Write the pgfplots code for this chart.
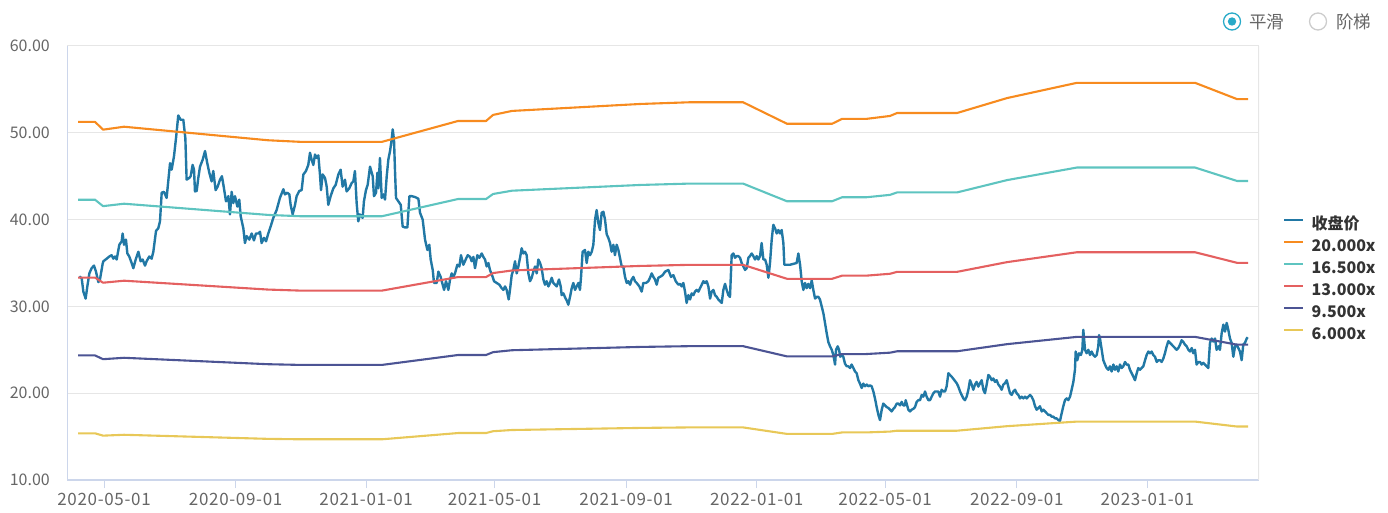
\documentclass[border=0pt]{standalone}
\usepackage{pgfplots}
\pgfplotsset{compat=1.18}
\usepackage{pgfplotstable}
\usepackage{fontspec}
\setmainfont{Noto Sans CJK SC}
\definecolor{closec}{RGB}{33,120,165}
\definecolor{c20}{RGB}{247,139,31}
\definecolor{c165}{RGB}{94,196,192}
\definecolor{c13}{RGB}{228,96,96}
\definecolor{c95}{RGB}{76,84,148}
\definecolor{c6}{RGB}{232,200,88}
\definecolor{gridc}{RGB}{230,230,230}
\definecolor{axisc}{RGB}{204,214,235}
\definecolor{tickc}{RGB}{102,102,102}
\definecolor{legc}{RGB}{51,51,51}
\definecolor{radioc}{RGB}{40,170,200}

\pgfplotstableread{
d b20 b165 b13 b95 b6
-24.3 51.26 42.29 33.32 24.35 15.38
-8.4 51.26 42.29 33.32 24.35 15.38
-0.9 50.36 41.55 32.73 23.92 15.11
18.7 50.70 41.83 32.96 24.08 15.21
153.3 49.14 40.54 31.94 23.34 14.74
183.2 48.96 40.39 31.82 23.26 14.69
259.8 48.96 40.39 31.82 23.26 14.69
330.8 51.36 42.37 33.38 24.40 15.41
357.0 51.36 42.37 33.38 24.40 15.41
363.6 52.06 42.95 33.84 24.73 15.62
381.3 52.52 43.33 34.14 24.95 15.76
500.9 53.32 43.99 34.66 25.33 16.00
547.7 53.52 44.15 34.79 25.42 16.06
597.2 53.52 44.15 34.79 25.42 16.06
638.3 51.04 42.11 33.18 24.24 15.31
680.4 51.04 42.11 33.18 24.24 15.31
689.7 51.60 42.57 33.54 24.51 15.48
712.1 51.60 42.57 33.54 24.51 15.48
734.6 51.94 42.85 33.76 24.67 15.58
741.1 52.28 43.13 33.98 24.83 15.68
797.2 52.28 43.13 33.98 24.83 15.68
843.9 54.00 44.55 35.10 25.65 16.20
909.3 55.76 46.00 36.24 26.49 16.73
1019.6 55.76 46.00 36.24 26.49 16.73
1058.9 53.88 44.45 35.02 25.59 16.16
1069.2 53.88 44.45 35.02 25.59 16.16
}\bands

\pgfplotstableread{
d close
-23.1 33.45
-20.9 33.25
-19.3 31.7
-17.2 30.9
-15.6 32.3
-13.7 33.8
-11.6 34.4
-9.4 34.7
-7.5 34.0
-5.3 32.8
-3.8 33.1
-1.3 34.9
-0.6 35.2
2.5 35.5
5.0 35.75
7.1 35.9
8.7 35.5
10.3 35.75
11.8 35.4
14.3 37.1
16.5 37.5
17.4 38.4
18.7 37.1
20.5 37.7
21.8 36.1
23.6 35.75
25.8 35.0
27.4 34.4
29.6 35.4
32.1 36.3
34.2 35.2
36.1 35.4
38.3 34.7
39.8 35.2
42.3 35.75
44.5 35.5
46.1 36.3
48.6 38.7
50.7 39.0
52.3 39.8
53.9 43.1
56.0 43.2
58.5 42.5
61.7 46.5
63.2 45.75
65.4 47.3
67.3 49.4
69.4 52.0
71.6 51.5
74.1 51.5
76.0 49.4
77.2 44.6
79.7 44.8
81.0 45.0
82.8 46.3
84.1 45.75
85.0 43.25
86.6 43.3
88.1 44.8
89.7 46.1
92.2 46.9
94.4 47.9
96.5 46.5
98.4 45.4
100.6 44.4
102.1 45.6
104.3 43.4
106.2 43.8
108.4 44.6
110.2 45.0
112.1 43.6
114.0 42.1
116.2 42.7
117.7 40.6
119.3 43.2
120.8 41.9
122.4 42.7
124.6 41.5
126.4 42.3
127.7 40.4
130.2 39.0
131.7 37.3
133.3 38.1
135.8 37.7
138.0 38.4
140.1 37.6
142.0 38.4
144.2 38.4
145.8 38.6
147.3 37.3
149.5 37.9
151.4 37.5
153.5 38.4
155.7 39.2
158.2 40.2
161.3 41.1
164.4 42.5
167.6 43.5
169.1 42.9
171.3 43.1
173.2 42.9
174.4 41.7
176.3 40.6
178.5 41.7
180.0 42.7
182.5 43.3
184.7 43.4
186.3 45.2
188.7 45.6
190.9 46.3
192.5 47.7
194.0 46.9
195.6 46.3
197.2 47.5
198.7 47.1
200.3 47.4
201.8 45.2
202.8 43.4
204.3 45.2
206.5 44.8
208.1 43.8
209.6 41.7
211.8 42.7
214.3 43.6
216.5 44.0
219.0 45.2
221.1 45.75
223.0 43.8
225.2 44.6
226.7 43.25
229.2 43.6
231.4 44.2
233.0 44.4
234.5 45.6
236.1 41.9
237.6 39.8
239.2 40.6
241.7 40.2
242.9 42.1
244.8 43.4
246.4 44.0
248.6 46.1
251.1 45.0
252.3 42.7
254.2 43.1
255.5 45.4
256.4 43.6
257.9 47.1
259.5 42.5
261.1 42.9
262.6 42.3
264.2 45.0
265.7 46.9
267.3 47.9
268.8 49.2
269.8 50.4
271.0 49.2
272.0 45.4
272.9 42.5
275.1 42.1
277.3 41.7
279.1 39.2
281.3 39.1
283.5 39.1
285.4 42.7
287.5 42.7
290.7 42.6
293.8 42.4
295.3 40.8
297.8 40.0
300.0 37.7
302.2 36.5
304.0 37.1
305.3 35.4
307.2 34.2
308.4 32.7
310.9 32.7
312.5 34.0
314.6 33.4
316.5 32.5
317.8 31.9
319.6 32.9
321.8 31.9
323.4 33.1
324.9 33.8
326.5 33.4
328.0 33.8
330.2 34.8
332.1 34.6
333.6 35.9
335.8 34.8
338.0 35.4
339.9 35.9
342.1 35.7
343.6 35.2
345.2 35.7
346.7 34.4
348.9 35.9
350.8 35.6
353.0 36.1
354.5 35.7
356.1 35.4
357.6 34.6
359.2 35.0
360.7 34.2
363.2 33.4
364.5 32.9
367.0 32.7
369.5 32.5
371.6 32.1
373.2 31.9
374.8 32.3
376.3 31.9
378.2 30.8
379.4 31.9
381.0 33.6
382.5 34.2
384.1 35.2
385.7 33.8
387.2 34.6
388.8 35.6
390.3 36.7
391.9 36.1
393.4 36.3
395.0 35.9
396.6 33.8
398.1 32.9
399.7 33.3
401.2 34.0
402.8 34.6
404.4 33.8
405.9 35.4
407.5 35.0
409.0 34.4
410.6 33.1
412.1 32.5
413.7 32.9
415.3 32.3
416.8 32.7
418.4 33.3
419.9 32.7
421.5 32.5
423.0 32.3
425.2 33.1
426.8 32.3
427.7 31.3
429.3 31.5
431.4 30.9
432.4 30.7
433.9 30.2
435.5 31.1
437.1 32.1
438.6 32.7
440.2 31.9
441.7 32.3
443.3 32.7
444.8 31.9
445.8 33.4
447.3 36.3
449.5 36.5
451.1 35.0
452.6 36.3
454.2 35.9
455.8 36.3
457.3 37.1
458.9 40.0
460.4 41.1
462.0 39.6
463.5 38.8
465.1 40.8
466.7 40.9
468.2 40.0
469.8 38.3
471.3 37.9
472.9 37.3
474.4 36.3
476.0 37.1
477.5 35.9
479.1 37.1
480.7 36.5
482.2 35.6
483.8 34.6
485.3 34.6
486.9 33.4
488.5 32.7
490.0 32.9
491.6 32.5
493.1 33.1
494.7 33.4
496.2 32.9
497.8 32.7
500.3 32.3
502.5 31.7
504.0 32.7
506.5 32.7
508.7 32.9
510.3 33.3
511.8 33.8
513.4 33.4
514.9 33.1
516.5 32.5
518.0 33.3
519.6 33.4
522.1 33.6
524.3 34.0
527.4 34.2
529.9 33.4
532.1 33.6
534.3 32.9
536.8 32.5
538.3 32.6
539.9 32.3
541.4 32.7
543.0 31.7
544.5 30.4
546.1 31.3
547.7 30.8
549.2 31.5
550.8 31.3
552.3 31.7
553.9 31.9
555.5 31.7
557.0 32.1
558.6 32.5
560.1 32.9
561.7 32.7
563.2 32.9
564.8 32.3
566.4 30.9
567.9 31.7
569.5 31.9
571.0 31.3
572.6 31.1
574.1 30.8
575.7 30.6
577.3 30.4
578.8 31.9
580.4 32.6
581.9 31.9
583.5 31.3
585.0 31.1
586.6 35.9
588.2 36.1
589.7 35.6
591.3 35.8
592.8 35.8
594.4 35.6
595.9 35.0
597.5 34.6
599.1 34.2
600.6 34.4
602.2 35.6
603.7 35.8
605.3 36.1
606.8 35.8
608.4 35.4
610.0 35.8
611.5 35.4
613.1 35.8
614.6 37.3
616.2 35.4
617.8 35.4
619.3 34.8
620.9 33.3
622.4 35.0
624.0 37.7
625.5 39.4
627.1 39.0
628.7 38.4
630.2 38.8
631.8 38.4
633.3 38.8
634.9 37.3
635.8 34.8
638.0 34.8
641.1 34.8
644.2 34.9
647.3 35.0
648.9 36.1
650.5 34.8
652.0 32.9
653.6 31.9
655.1 32.7
656.7 32.1
658.2 32.6
659.8 32.1
661.4 33.0
662.9 31.9
664.5 30.9
666.0 31.1
667.6 31.1
669.1 30.8
670.7 30.0
672.3 29.2
673.8 28.1
675.4 26.9
676.9 25.9
678.5 25.4
680.1 25.0
681.6 24.4
683.2 23.3
684.1 25.0
685.7 25.4
686.9 25.0
688.1 24.2
689.4 24.4
690.9 24.2
692.5 23.4
694.1 23.1
695.6 23.1
697.2 22.9
698.7 23.3
700.3 22.9
701.9 22.5
703.4 22.3
705.0 21.5
706.5 21.1
708.1 20.6
709.6 21.1
711.2 20.8
712.8 21.0
714.3 20.8
715.9 20.9
717.4 20.8
719.0 20.2
720.5 19.4
722.1 18.4
723.7 17.5
725.2 16.9
726.8 18.1
728.3 18.8
729.9 18.6
731.4 18.4
733.0 18.3
734.6 18.1
736.1 17.9
737.7 18.2
739.2 18.4
740.8 18.8
742.4 18.8
743.9 18.6
745.5 19.0
747.0 18.6
748.6 18.6
749.2 19.2
750.1 18.8
751.7 18.1
753.3 17.9
754.8 18.1
756.4 18.2
757.9 18.4
759.5 19.0
761.0 19.2
762.6 19.2
764.2 19.8
765.7 19.6
767.3 20.2
768.8 19.6
770.4 19.2
771.9 19.2
773.5 19.6
775.1 20.0
776.6 20.2
778.2 20.2
779.7 20.2
781.3 19.6
782.8 20.4
784.4 20.2
786.0 20.2
787.5 20.8
789.1 22.3
790.6 22.1
792.2 21.9
796.9 21.15
798.4 20.76
800.0 20.2
801.5 19.8
803.1 19.4
804.6 19.2
806.2 19.6
807.8 20.4
809.3 21.5
810.9 21.0
812.4 20.4
814.0 21.0
815.5 21.3
817.1 20.76
818.7 21.15
820.2 21.5
821.8 20.4
823.3 20.0
824.9 21.0
826.5 22.1
828.0 21.9
829.6 21.5
831.1 21.7
832.7 21.3
834.2 21.5
835.8 21.0
837.4 20.76
838.9 20.4
840.5 21.0
842.0 21.15
843.6 21.5
845.1 20.76
846.7 20.0
848.3 19.8
849.8 20.2
851.4 20.4
852.9 20.0
854.5 19.8
856.0 19.4
857.6 19.6
859.2 19.4
860.7 19.6
862.3 19.4
863.8 19.6
865.4 19.8
866.9 19.6
868.5 19.2
870.1 18.5
871.6 18.1
873.2 18.3
874.7 18.5
876.3 17.9
877.8 18.1
879.4 17.9
881.0 17.7
882.5 17.5
884.1 17.5
885.6 17.3
887.2 17.3
888.8 17.1
890.3 17.1
891.9 16.9
893.4 16.8
895.0 17.7
896.5 18.5
898.1 19.2
899.7 19.4
901.2 19.2
902.8 19.6
904.3 20.4
905.9 21.3
907.4 22.7
908.1 24.8
909.6 23.8
911.2 24.6
913.0 24.4
914.3 25.0
915.2 27.3
916.8 25.0
918.3 24.6
919.9 25.0
921.5 24.4
923.0 24.8
924.6 24.4
926.1 24.2
927.7 24.4
929.2 25.4
929.9 26.7
930.8 26.3
932.4 25.0
933.9 23.8
935.5 23.3
937.0 22.9
938.6 22.7
940.1 23.1
941.7 22.5
943.3 23.3
944.8 22.7
946.4 23.1
947.9 22.5
949.5 23.3
951.1 22.9
952.6 23.1
954.2 23.6
955.7 23.3
957.3 23.3
958.8 22.7
960.4 22.3
962.0 21.9
963.5 21.5
965.1 22.3
966.6 22.9
968.2 22.7
969.7 22.9
971.3 23.1
972.9 23.8
974.4 24.4
976.0 24.8
977.5 24.6
979.1 24.8
980.6 24.4
982.2 24.2
983.8 23.6
985.3 23.8
986.9 23.8
988.4 23.6
990.0 24.0
991.5 24.6
993.1 25.4
994.7 26.0
996.2 25.8
997.8 25.6
999.3 25.4
1000.9 25.2
1002.4 25.0
1004.0 25.2
1005.6 25.6
1007.1 26.1
1008.7 25.9
1010.2 25.6
1011.8 25.4
1013.4 25.0
1014.9 24.8
1016.5 25.2
1018.0 24.6
1019.6 25.0
1021.1 23.3
1022.7 23.6
1024.3 23.6
1025.8 23.3
1027.4 23.5
1028.9 23.3
1030.5 23.1
1032.0 22.9
1033.6 25.8
1035.2 26.3
1036.7 25.95
1038.3 26.3
1039.8 25.0
1041.4 25.4
1042.9 25.0
1044.5 26.9
1046.1 27.9
1047.6 27.1
1049.2 28.1
1050.7 27.3
1052.3 26.3
1053.8 25.8
1055.4 24.2
1057.0 25.4
1058.5 25.6
1060.1 25.2
1061.6 24.8
1063.2 23.8
1064.7 25.6
1066.3 25.8
1067.9 26.3
1068.8 26.45
}\closedata

\begin{document}
\begin{tikzpicture}[x=1pt,y=1pt]
\useasboundingbox (0,0) rectangle (1388,512);
\begin{axis}[
  at={(67pt,32pt)}, anchor=south west, scale only axis,
  width=1192pt, height=434pt,
  xmin=-34.6, xmax=1079.4, ymin=10, ymax=60,
  axis line style={draw=none},
  ymajorgrids, grid style={color=gridc, line width=1pt},
  ytick={10,20,30,40,50,60},
  yticklabel={\pgfmathprintnumber[fixed,fixed zerofill,precision=2]{\tick}},
  /pgf/number format/assume math mode=true,
  ytick style={draw=none},
  ytick pos=left,
  yticklabel style={font=\fontsize{16}{16}\selectfont, text=tickc, inner sep=0pt, anchor=east, xshift=-9pt},
  xtick={0,123,245,365,488,610,730,853,975},
  xticklabels={2020-05-01,2020-09-01,2021-01-01,2021-05-01,2021-09-01,2022-01-01,2022-05-01,2022-09-01,2023-01-01},
  xtick pos=bottom, tick align=outside, major tick length=8pt,
  xtick style={color=axisc, line width=1pt},
  xticklabel style={font=\fontsize{17}{17}\selectfont\addfontfeature{LetterSpace=4}, text=tickc, inner sep=0pt, anchor=north, yshift=-5pt},
  legend style={at={(1.0201,0.606)}, anchor=north west, draw=none, fill=none,
    font=\fontsize{16}{17}\bfseries, text=legc, row sep=6pt, inner sep=0pt,
    nodes={inner sep=0pt, text height=12pt, text depth=4pt},
    /tikz/every odd column/.append style={column sep=7pt}},
  legend cell align=left,
  legend image code/.code={\draw[#1, line width=2.5pt] (0pt,5pt) -- (19pt,5pt);},
  every axis plot/.append style={line width=2.1pt, line join=round},
]
\addplot[color=closec, no marks, line width=2.4pt] table[x=d, y=close] {\closedata};
\addlegendentry{收盘价}
\addplot[color=c20, no marks] table[x=d, y=b20] {\bands};
\addlegendentry{20.000x}
\addplot[color=c165, no marks] table[x=d, y=b165] {\bands};
\addlegendentry{16.500x}
\addplot[color=c13, no marks] table[x=d, y=b13] {\bands};
\addlegendentry{13.000x}
\addplot[color=c95, no marks] table[x=d, y=b95] {\bands};
\addlegendentry{9.500x}
\addplot[color=c6, no marks] table[x=d, y=b6] {\bands};
\addlegendentry{6.000x}
\draw[color=axisc, line width=1.2pt] (rel axis cs:0,0) -- (rel axis cs:0,1);
\draw[color=axisc, line width=1.2pt] (rel axis cs:0,0) -- (rel axis cs:1,0);
\draw[color=gridc, line width=1.2pt] (rel axis cs:1,0) -- (rel axis cs:1,1);
\end{axis}
% radio buttons (UI controls)
\draw[color=radioc, line width=1.3pt, fill=white] (1232,490.5) circle (8.5);
\fill[color=radioc] (1232,490.5) circle (4.2);
\node[anchor=west, inner sep=0pt, font=\fontsize{17.5}{18}\selectfont, text=tickc] at (1249,490.5) {平滑};
\draw[color=black!20, line width=1.3pt, fill=white] (1318,490.5) circle (8.5);
\node[anchor=west, inner sep=0pt, font=\fontsize{17.5}{18}\selectfont, text=tickc] at (1336,490.5) {阶梯};
\end{tikzpicture}
\end{document}
